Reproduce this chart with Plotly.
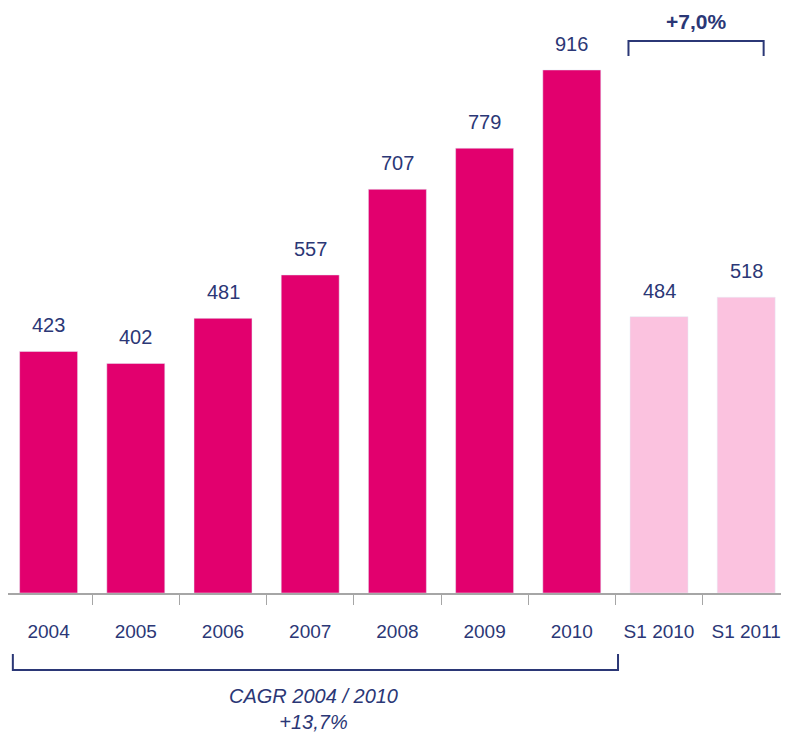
import plotly.graph_objects as go

categories = ["2004", "2005", "2006", "2007", "2008", "2009", "2010", "S1 2010", "S1 2011"]
values = [423, 402, 481, 557, 707, 779, 916, 484, 518]
bar_colors = ["#E2006E"] * 7 + ["#FBC2DF"] * 2
growth_label = "+7,0%"
cagr_label = "<i>CAGR 2004 / 2010</i><br><i>+13,7%</i>"

NAVY = "#2B3776"
FONT = "Liberation Sans, Arial, sans-serif"

# page body has an 8px margin; figure is sized/positioned to compensate
OFF = 8
W, H = 789 - OFF, 739 - OFF
AXIS_Y = 593            # axis position in window pixels
PLOT_H = AXIS_Y - OFF   # plot area height
PX_PER_UNIT = 0.571
CAT_W = 87.2

def py(pix):
    """window pixel y -> paper y"""
    return (AXIS_Y - pix) / PLOT_H

x0 = -0.5 + 3 / CAT_W
x1 = x0 + W / CAT_W

fig = go.Figure()
fig.add_trace(go.Bar(
    x=categories, y=values, marker_color=bar_colors, width=0.665, cliponaxis=False,
))
for i, v in enumerate(values):
    fig.add_annotation(x=i, y=v, text=str(v), showarrow=False, yanchor="bottom", yshift=13,
                       font=dict(family=FONT, size=20, color=NAVY))

# top bracket (S1 2010 -> S1 2011)
fig.add_shape(type="path", xref="x", yref="paper",
              path=f"M 6.65 {py(56)} L 6.65 {py(41)} L 8.2 {py(41)} L 8.2 {py(56)}",
              line=dict(color=NAVY, width=2))
fig.add_annotation(x=7.42, xref="x", y=py(21), yref="paper", yanchor="middle",
                   text=f"<b>{growth_label}</b>", showarrow=False,
                   font=dict(family=FONT, size=21, color=NAVY))

# bottom bracket (2004 -> 2010)
fig.add_shape(type="path", xref="x", yref="paper",
              path=f"M -0.41 {py(654)} L -0.41 {py(670)} L 6.53 {py(670)} L 6.53 {py(654)}",
              line=dict(color=NAVY, width=2))
fig.add_annotation(x=3.04, xref="x", y=py(709), yref="paper", yanchor="middle",
                   text=cagr_label, showarrow=False,
                   font=dict(family=FONT, size=20, color=NAVY))

fig.update_layout(
    width=W, height=H, margin=dict(l=0, r=0, t=0, b=H - PLOT_H, autoexpand=False),
    plot_bgcolor="white", paper_bgcolor="white", showlegend=False,
    xaxis=dict(range=[x0, x1], showline=True, linecolor="#A6A6A6", linewidth=1.5,
               ticks="outside", tickson="boundaries", ticklen=10, tickcolor="#A6A6A6",
               tickangle=0, automargin=False,
               tickfont=dict(family=FONT, size=19, color=NAVY), ticklabelstandoff=20),
    yaxis=dict(range=[0, PLOT_H / PX_PER_UNIT], visible=False, showgrid=False,
               automargin=False),
)
fig.write_html("out.html")
